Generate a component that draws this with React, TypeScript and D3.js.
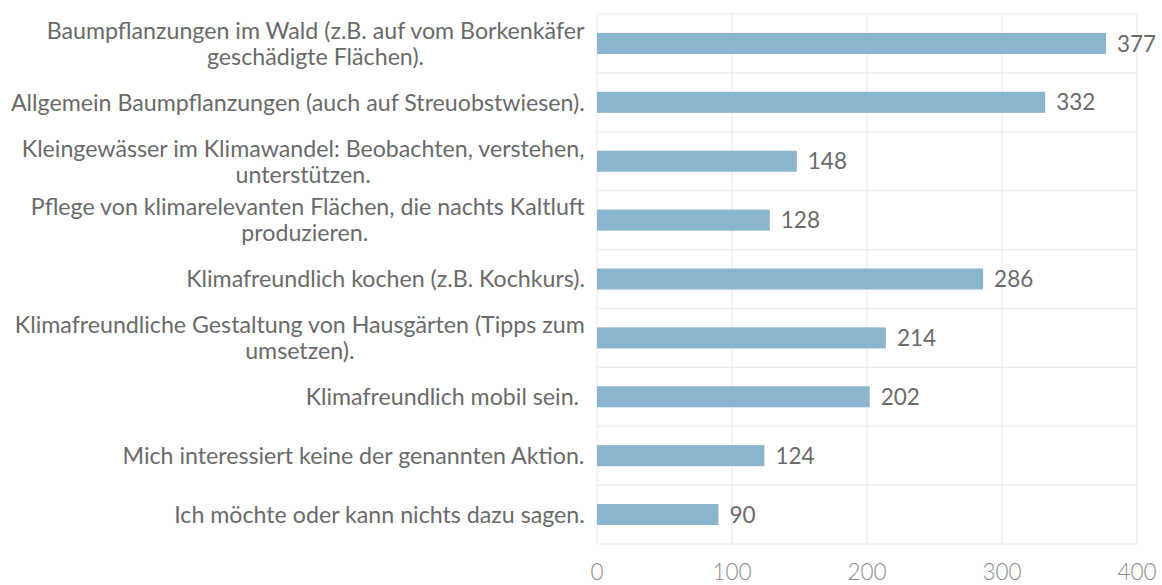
import React from "react";
import * as d3 from "d3";

const labelLines: string[][] = [
  ["Baumpflanzungen im Wald (z.B. auf vom Borkenkäfer", "geschädigte Flächen)."],
  ["Allgemein Baumpflanzungen (auch auf Streuobstwiesen)."],
  ["Kleingewässer im Klimawandel: Beobachten, verstehen,", "unterstützen."],
  [" Pflege von klimarelevanten Flächen, die nachts Kaltluft", "produzieren."],
  ["Klimafreundlich kochen (z.B. Kochkurs)."],
  ["Klimafreundliche Gestaltung von Hausgärten (Tipps zum", "umsetzen)."],
  ["Klimafreundlich mobil sein. "],
  ["Mich interessiert keine der genannten Aktion."],
  ["Ich möchte oder kann nichts dazu sagen."],
];
const values: number[] = [377, 332, 148, 128, 286, 214, 202, 124, 90];
const xTicks: number[] = [0, 100, 200, 300, 400];

const W = 1162, H = 585;
const plotLeft = 597, plotRight = 1137, plotTop = 14, plotBottom = 544;
const FONT = "Lato, 'Noto Sans', sans-serif";
const FS = 23.2;
const FW = 400;

let ctx: CanvasRenderingContext2D | null = null;
function measure(t: string, size: number) {
  if (!ctx) ctx = document.createElement("canvas").getContext("2d");
  if (!ctx) return t.length * size * 0.5;
  ctx.font = `${FW} ${size}px Lato`;
  return ctx.measureText(t).width;
}

export default function App() {
  const ids = labelLines.map((_, i) => String(i));
  const x = d3.scaleLinear().domain([0, 400]).range([plotLeft, plotRight]);
  const y = d3.scaleBand<string>().domain(ids).range([plotTop, plotBottom]).paddingInner(0).paddingOuter(0);
  const bandW = y.bandwidth();
  const barH = 21;
  const lineH = 26;
  const labelRight = 585;

  return (
    <svg width={W} height={H} style={{ position: "absolute", left: 0, top: 0, background: "#fff" }}>
      <rect x={0} y={0} width={W} height={H} fill="#fff" />
      {d3.range(ids.length + 1).map((i) => {
        const yy = plotTop + i * bandW;
        return <line key={"h" + i} x1={plotLeft} x2={plotRight} y1={yy} y2={yy} stroke="#ebebeb" strokeWidth={1.2} />;
      })}
      {xTicks.map((t) => (
        <line key={"v" + t} x1={x(t)} x2={x(t)} y1={plotTop} y2={plotBottom} stroke="#ebebeb" strokeWidth={1.2} />
      ))}
      {values.map((v, i) => {
        const cy = (y(ids[i]) as number) + bandW / 2;
        return (
          <g key={"b" + i}>
            <rect x={x(0)} y={cy - barH / 2} width={x(v) - x(0)} height={barH} fill="#8bb4cf" />
            <text x={x(v) + 11} y={cy} dy="0.36em" fontFamily={FONT} fontSize={22.5} fontWeight={FW} fill="#6a6a6a">{v}</text>
          </g>
        );
      })}
      {labelLines.map((lines, i) => {
        const cy = (y(ids[i]) as number) + bandW / 2;
        const widths = lines.map((l) => measure(l, FS));
        const bw = Math.max(...widths);
        const cx = labelRight - bw / 2;
        const y0 = cy - ((lines.length - 1) * lineH) / 2;
        return (
          <text key={"l" + i} fontFamily={FONT} fontSize={FS} fontWeight={FW} fill="#6a6a6a" textAnchor="middle" style={{ whiteSpace: "pre" }}>
            {lines.map((l, j) => (
              <tspan key={j} x={cx} y={y0 + j * lineH} dy="0.36em">{l}</tspan>
            ))}
          </text>
        );
      })}
      {xTicks.map((t) => (
        <text key={"t" + t} x={x(t)} y={572} dy="0.36em" textAnchor="middle" fontFamily={FONT} fontSize={22.5} fontWeight={300} fill="#8c8c8c">{t}</text>
      ))}
    </svg>
  );
}
